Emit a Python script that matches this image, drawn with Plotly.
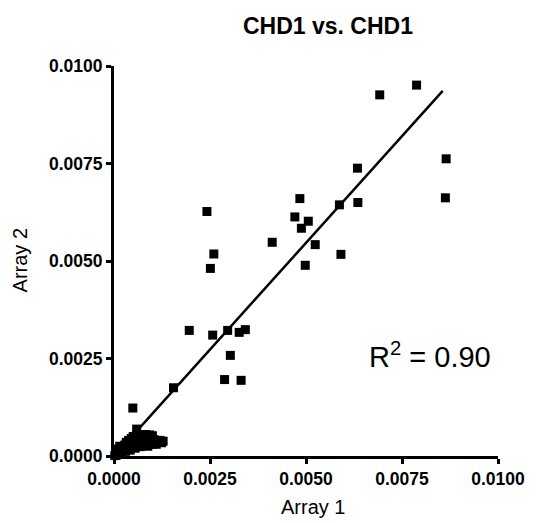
import plotly.graph_objects as go

# Scatter data (Array 1 vs Array 2)
array1 = [
    0.00788, 0.00692, 0.00865, 0.00634, 0.00863, 0.00484, 0.00587, 0.00635,
    0.00242, 0.00471, 0.00506, 0.00488, 0.00412, 0.00524, 0.00260, 0.00591,
    0.00251, 0.00498, 0.00196, 0.00257, 0.00296, 0.00326, 0.00342, 0.00303,
    0.00288, 0.00331, 0.00155, 0.00049, 0.00059,
    # dense cluster near origin
    0.00002, 0.00004, 0.00006, 0.00008, 0.00010, 0.00005, 0.00012, 0.00015,
    0.00018, 0.00010, 0.00020, 0.00015, 0.00022, 0.00025, 0.00028, 0.00030,
    0.00032, 0.00035, 0.00038, 0.00040, 0.00042, 0.00045, 0.00048, 0.00050,
    0.00052, 0.00055, 0.00058, 0.00060, 0.00062, 0.00065, 0.00068, 0.00070,
    0.00072, 0.00075, 0.00078, 0.00080, 0.00083, 0.00086, 0.00088, 0.00090,
    0.00093, 0.00096, 0.00098, 0.00100, 0.00104, 0.00108, 0.00112, 0.00116,
    0.00120, 0.00124, 0.00128, 0.00110,
]
array2 = [
    0.00951, 0.00926, 0.00762, 0.00738, 0.00662, 0.00660, 0.00644, 0.00650,
    0.00627, 0.00613, 0.00602, 0.00584, 0.00548, 0.00542, 0.00518, 0.00517,
    0.00481, 0.00489, 0.00322, 0.00310, 0.00322, 0.00317, 0.00324, 0.00258,
    0.00196, 0.00194, 0.00175, 0.00123, 0.00069,
    # dense cluster near origin
    0.00001, 0.00003, 0.00002, 0.00005, 0.00008, 0.00010, 0.00004, 0.00010,
    0.00015, 0.00018, 0.00022, 0.00025, 0.00008, 0.00017, 0.00028, 0.00012,
    0.00035, 0.00022, 0.00040, 0.00030, 0.00015, 0.00045, 0.00025, 0.00050,
    0.00036, 0.00020, 0.00052, 0.00042, 0.00030, 0.00055, 0.00024, 0.00046,
    0.00036, 0.00053, 0.00028, 0.00044, 0.00055, 0.00034, 0.00025, 0.00047,
    0.00054, 0.00038, 0.00030, 0.00052, 0.00042, 0.00033, 0.00040, 0.00036,
    0.00040, 0.00034, 0.00038, 0.00030,
]

# Linear regression line
fit_slope = 1.095
fit_intercept = -0.00001
fit_x = [0.0, 0.00856]
r_squared_text = "R<sup>2</sup> = 0.90"

tick_vals = [0.0, 0.0025, 0.005, 0.0075, 0.01]
tick_text = ["0.0000", "0.0025", "0.0050", "0.0075", "0.0100"]

FONT = "Liberation Sans, Arial, sans-serif"

# figure size compensates for the 8px default body margin of the page
W, H = 529, 515
ML, MT, PW, PH = 106, 58, 390, 390
MR, MB = W - ML - PW, H - MT - PH

fig = go.Figure()
fig.add_trace(go.Scatter(
    x=array1, y=array2, mode="markers",
    marker=dict(symbol="square", size=9, color="black", line=dict(width=0)),
    cliponaxis=False, showlegend=False,
))
fit_y = [fit_slope * v + fit_intercept for v in fit_x]
fig.add_trace(go.Scatter(
    x=fit_x, y=fit_y, mode="lines",
    line=dict(color="black", width=2.5),
    cliponaxis=False, showlegend=False,
))

fig.add_annotation(
    x=0.00823, y=0.0026, xref="x", yref="y",
    text=r_squared_text, showarrow=False,
    font=dict(family=FONT, size=29, color="black"),
)
# axis titles
fig.add_annotation(
    x=(308 - ML) / PW, y=(MT + PH - 499) / PH, xref="paper", yref="paper",
    text="Array 1", showarrow=False, xanchor="center", yanchor="middle",
    font=dict(family=FONT, size=20, color="black"),
)
fig.add_annotation(
    x=(11 - ML) / PW, y=(MT + PH - 252) / PH, xref="paper", yref="paper",
    text="Array 2", showarrow=False, textangle=-90,
    xanchor="center", yanchor="middle",
    font=dict(family=FONT, size=20, color="black"),
)

axis_common = dict(
    range=[0, 0.01], tickvals=tick_vals, ticktext=tick_text,
    showgrid=False, zeroline=False, showline=True, linecolor="black",
    linewidth=3, ticks="outside", ticklen=5, tickwidth=3,
    tickcolor="black",
    tickfont=dict(family=FONT, size=17.5, color="black", weight="bold"),
)

fig.update_layout(
    width=W, height=H,
    margin=dict(l=ML, r=MR, t=MT, b=MB, pad=0),
    paper_bgcolor="white", plot_bgcolor="white",
    title=dict(
        text="<b>CHD1 vs. CHD1</b>", x=320 / W, xref="container",
        xanchor="center", y=1 - 18 / H, yref="container", yanchor="middle",
        font=dict(family=FONT, size=23, color="black"),
    ),
    xaxis=dict(**axis_common),
    yaxis=dict(**axis_common),
)

fig.write_html("out.html")
